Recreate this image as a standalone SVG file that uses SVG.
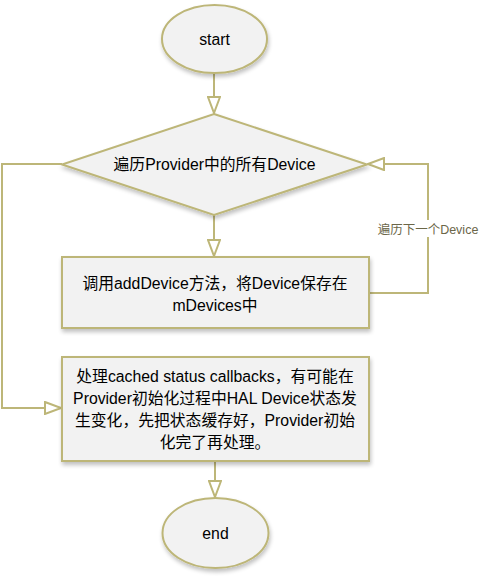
<svg xmlns="http://www.w3.org/2000/svg" width="487" height="579" viewBox="0 0 487 579">
<defs>
<style>
.shape{fill:#f2f2f2;stroke:#bdb678;stroke-width:2;filter:url(#sh);}
.conn{fill:none;stroke:#bdb678;stroke-width:2;}
.t{font-family:"Liberation Sans","Noto Sans CJK SC",sans-serif;font-size:15.8px;fill:#000;text-anchor:middle;}
.lbl{font-family:"Liberation Sans","Noto Sans CJK SC",sans-serif;font-size:12.5px;fill:#6b6648;text-anchor:middle;}
</style>
<filter id="sh" x="-10%" y="-10%" width="130%" height="130%">
<feGaussianBlur in="SourceAlpha" stdDeviation="2"/>
<feOffset dx="1" dy="3" result="b"/>
<feComponentTransfer><feFuncA type="linear" slope="0.25"/></feComponentTransfer>
<feMerge><feMergeNode/><feMergeNode in="SourceGraphic"/></feMerge>
</filter>
<marker id="arr" viewBox="0 0 18 14" refX="17" refY="7" markerWidth="18" markerHeight="14" markerUnits="userSpaceOnUse" orient="auto">
<path d="M1,1 L17,7 L1,13 Z" fill="#fff" stroke="#bdb678" stroke-width="2" stroke-linejoin="miter"/>
</marker>
</defs>
<rect width="487" height="579" fill="#fff"/>
<g id="connectors">
<path class="conn" d="M214,74 V113" marker-end="url(#arr)"/>
<path class="conn" d="M214,215 V256" marker-end="url(#arr)"/>
<path class="conn" d="M62,164 H2 V408 H61" marker-end="url(#arr)"/>
<path class="conn" d="M369,293 H428 V164 H368" marker-end="url(#arr)"/>
<path class="conn" d="M215,462 V497" marker-end="url(#arr)"/>
<rect x="374" y="220" width="108" height="17" fill="#fff"/>
<text class="lbl" x="428" y="233.5">遍历下一个Device</text>
</g>
<g id="start">
<ellipse class="shape" cx="214.5" cy="39" rx="52.5" ry="34"/>
<text class="t" x="214.5" y="44.5">start</text>
</g>
<g id="loop">
<polygon class="shape" points="214,114 367,164.5 214,215 62,164.5"/>
<text class="t" x="214.5" y="170">遍历Provider中的所有Device</text>
</g>
<g id="addDevice">
<rect class="shape" x="62" y="257" width="307" height="71"/>
<text class="t" x="215" y="288.5">调用addDevice方法，将Device保存在</text>
<text class="t" x="215" y="310.5">mDevices中</text>
</g>
<g id="callbacks">
<rect class="shape" x="62" y="357" width="307" height="104"/>
<text class="t" x="215" y="381.5">处理cached status callbacks，有可能在</text>
<text class="t" x="215" y="403.5">Provider初始化过程中HAL Device状态发</text>
<text class="t" x="215" y="425.5">生变化，先把状态缓存好，Provider初始</text>
<text class="t" x="215" y="447.5">化完了再处理。</text>
</g>
<g id="end">
<ellipse class="shape" cx="215.5" cy="533" rx="53" ry="35"/>
<text class="t" x="215.5" y="538.5">end</text>
</g>
</svg>
